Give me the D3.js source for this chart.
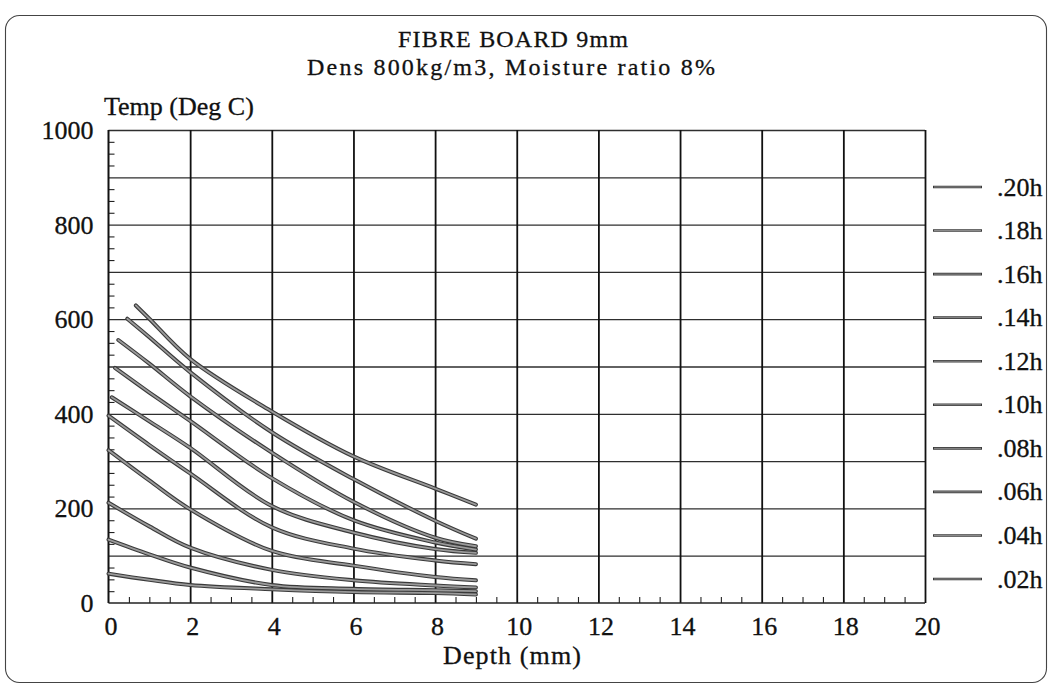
<!DOCTYPE html>
<html>
<head>
<meta charset="utf-8">
<script src="https://cdn.jsdelivr.net/npm/d3@7/dist/d3.min.js"></script>
<style>
  html, body { margin: 0; padding: 0; background: #fff; }
  svg { display: block; }
  text { font-family: "Liberation Serif", "DejaVu Serif", serif; fill: #111; stroke: #111; stroke-width: 0.3px; }
</style>
</head>
<body>
<svg id="chart" width="1052" height="691"></svg>
<script>
// Temperature profiles through a 9 mm fibre board at successive exposure times
const seriesLabels = [".20h", ".18h", ".16h", ".14h", ".12h", ".10h", ".08h", ".06h", ".04h", ".02h"];
// depth of the first point of each profile (surface layer already consumed)
const startDepth = [0.67, 0.46, 0.24, 0.16, 0.08, 0, 0, 0, 0, 0];
// depths (mm) of the remaining points of every profile
const depths = [1, 2, 4, 6, 8, 9];
// temperatures (Deg C): first value at startDepth, then at each entry of depths
const temp20h = [629, 601, 516, 405, 310, 242, 208];
const temp18h = [601, 562, 488, 361, 262, 174, 136];
const temp16h = [556, 506, 437, 318, 214, 138, 120];
const temp14h = [497, 445, 385, 264, 175, 128, 113];
const temp12h = [435, 384, 328, 205, 149, 114, 106];
const temp10h = [396, 334, 274, 160, 115, 90, 82];
const temp08h = [323, 259, 198, 110, 79, 55, 48];
const temp06h = [212, 162, 117, 70, 48, 37, 33];
const temp04h = [134, 103, 75, 38, 30, 27, 25];
const temp02h = [62, 49, 38, 29, 23, 21, 18];
const seriesTemps = [temp20h, temp18h, temp16h, temp14h, temp12h, temp10h, temp08h, temp06h, temp04h, temp02h];

const xTicks = [0, 2, 4, 6, 8, 10, 12, 14, 16, 18, 20];
const yTicks = [0, 200, 400, 600, 800, 1000];

const svg = d3.select("#chart");

const x = d3.scaleLinear().domain([0, 20]).range([108.5, 925]);
const y = d3.scaleLinear().domain([0, 1000]).range([603, 130]);

// outer frame
svg.append("rect")
  .attr("x", 5.5).attr("y", 15.5).attr("width", 1041).attr("height", 667)
  .attr("rx", 14).attr("ry", 14)
  .attr("fill", "none").attr("stroke", "#444").attr("stroke-width", 1.1);

// titles
svg.append("text").attr("x", 513).attr("y", 46.5).attr("text-anchor", "middle")
  .attr("font-size", 24).attr("textLength", 230).attr("lengthAdjust", "spacing")
  .text("FIBRE BOARD 9mm");
svg.append("text").attr("x", 511).attr("y", 75).attr("text-anchor", "middle")
  .attr("font-size", 24).attr("textLength", 408).attr("lengthAdjust", "spacing")
  .text("Dens 800kg/m3, Moisture ratio 8%");

// horizontal grid
svg.append("g")
  .attr("transform", `translate(${x(0)},0)`)
  .call(d3.axisRight(y).tickValues(d3.range(100, 1001, 100)).tickSize(x(20) - x(0)).tickFormat(""))
  .call(g => g.select(".domain").remove())
  .call(g => g.selectAll("line").attr("stroke", "#2e2e2e").attr("stroke-width", 1.3));

// vertical grid
svg.append("g")
  .attr("transform", `translate(0,${y(0)})`)
  .call(d3.axisTop(x).tickValues(d3.range(2, 21, 2)).tickSize(y(0) - y(1000)).tickFormat(""))
  .call(g => g.select(".domain").remove())
  .call(g => g.selectAll("line").attr("stroke", "#111").attr("stroke-width", 1.8));

// minor ticks on the left axis (every 25 Deg C), pointing inward
const yMinor = d3.range(0, 1000, 25).filter(v => v % 100 !== 0);
svg.append("g")
  .attr("transform", `translate(${x(0)},0)`)
  .call(d3.axisRight(y).tickValues(yMinor).tickSize(6).tickFormat(""))
  .call(g => g.select(".domain").remove())
  .call(g => g.selectAll("line").attr("stroke", "#222").attr("stroke-width", 1.1));

// minor ticks on the bottom axis (every 0.5 mm), pointing inward
const xMinor = d3.range(0.5, 20, 0.5).filter(v => v % 2 !== 0);
svg.append("g")
  .attr("transform", `translate(0,${y(0)})`)
  .call(d3.axisTop(x).tickValues(xMinor).tickSize(6).tickFormat(""))
  .call(g => g.select(".domain").remove())
  .call(g => g.selectAll("line").attr("stroke", "#222").attr("stroke-width", 1.1));

// axis lines
svg.append("line").attr("x1", x(0)).attr("x2", x(0)).attr("y1", y(0)).attr("y2", y(1000))
  .attr("stroke", "#111").attr("stroke-width", 2);
svg.append("line").attr("x1", x(0)).attr("x2", x(20)).attr("y1", y(0)).attr("y2", y(0))
  .attr("stroke", "#222").attr("stroke-width", 1.6);

// x tick labels
svg.append("g")
  .attr("transform", `translate(0,${y(0)})`)
  .call(d3.axisBottom(x).tickValues(xTicks).tickSize(0).tickFormat(d3.format("d")))
  .call(g => g.select(".domain").remove())
  .call(g => g.selectAll("text")
    .attr("y", 32).attr("dy", 0).attr("dx", 2)
    .attr("font-size", 26).attr("font-family", "Liberation Serif, serif").attr("fill", "#111"));

// y tick labels
svg.append("g")
  .attr("transform", `translate(${x(0)},0)`)
  .call(d3.axisLeft(y).tickValues(yTicks).tickSize(0).tickFormat(d3.format("d")))
  .call(g => g.select(".domain").remove())
  .call(g => g.selectAll("text")
    .attr("x", -15).attr("dy", 8.5)
    .attr("font-size", 26).attr("font-family", "Liberation Serif, serif").attr("fill", "#111"));

// axis titles
svg.append("text").attr("x", 104).attr("y", 115).attr("font-size", 26).text("Temp (Deg C)");
svg.append("text").attr("x", 512).attr("y", 664).attr("text-anchor", "middle")
  .attr("font-size", 26).attr("textLength", 138).attr("lengthAdjust", "spacing").text("Depth (mm)");

// profiles
const line = d3.line()
  .x(d => x(d[0]))
  .y(d => y(d[1]))
  .curve(d3.curveCatmullRom.alpha(0.5));

const profiles = seriesTemps.map((temps, i) =>
  temps.map((t, j) => [j === 0 ? startDepth[i] : depths[j - 1], t]));

const curves = svg.append("g");
curves.selectAll("path.edge").data(profiles).join("path")
  .attr("class", "edge")
  .attr("d", line)
  .attr("fill", "none").attr("stroke", "#3a3a3a").attr("stroke-width", 4)
  .attr("stroke-linecap", "round");
curves.selectAll("path.core").data(profiles).join("path")
  .attr("class", "core")
  .attr("d", line)
  .attr("fill", "none").attr("stroke", "#9a9a9a").attr("stroke-width", 1.8)
  .attr("stroke-linecap", "round");

// legend
const ly = d3.scalePoint().domain(seriesLabels).range([187, 579]);
const legend = svg.append("g");
legend.selectAll("line.edge").data(seriesLabels).join("line")
  .attr("class", "edge")
  .attr("x1", 933).attr("x2", 982)
  .attr("y1", d => ly(d)).attr("y2", d => ly(d))
  .attr("stroke", "#3a3a3a").attr("stroke-width", 2.6);
legend.selectAll("line.core").data(seriesLabels).join("line")
  .attr("class", "core")
  .attr("x1", 934).attr("x2", 981)
  .attr("y1", d => ly(d)).attr("y2", d => ly(d))
  .attr("stroke", "#9a9a9a").attr("stroke-width", 0.9);
legend.selectAll("text").data(seriesLabels).join("text")
  .attr("x", 997).attr("y", d => ly(d) + 8.5)
  .attr("font-size", 26)
  .text(d => d);
</script>
</body>
</html>
